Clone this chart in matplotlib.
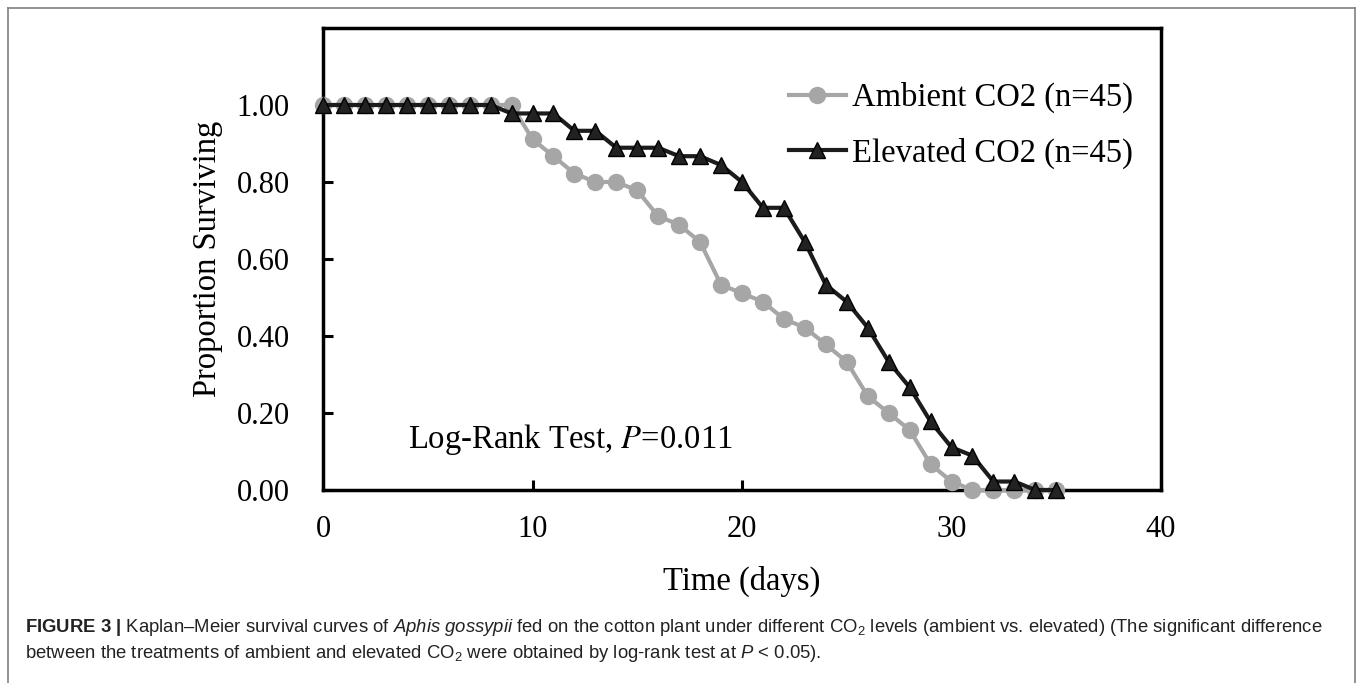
import numpy as np
import matplotlib; matplotlib.use("Agg")
import matplotlib.pyplot as plt
from matplotlib.lines import Line2D

plt.rcParams.update({"font.family": "Liberation Serif",
                     "mathtext.fontset": "custom",
                     "mathtext.rm": "Liberation Sans",
                     "mathtext.it": "Liberation Sans:italic",
                     "mathtext.bf": "Liberation Sans:bold"})

# data (proportion surviving, n=45 per group)
days = list(range(0, 36))
ambient = [1.000, 1.000, 1.000, 1.000, 1.000, 1.000, 1.000, 1.000, 1.000, 1.000,
           0.911, 0.867, 0.822, 0.800, 0.800, 0.778, 0.711, 0.689, 0.644, 0.533,
           0.511, 0.489, 0.444, 0.422, 0.378, 0.333, 0.244, 0.200, 0.156, 0.067,
           0.022, 0.000, 0.000, 0.000, 0.000, 0.000]
elevated = [1.000, 1.000, 1.000, 1.000, 1.000, 1.000, 1.000, 1.000, 1.000, 0.978,
            0.978, 0.978, 0.933, 0.933, 0.889, 0.889, 0.889, 0.867, 0.867, 0.844,
            0.800, 0.733, 0.733, 0.644, 0.533, 0.489, 0.422, 0.333, 0.267, 0.178,
            0.111, 0.089, 0.022, 0.022, 0.000, 0.000]
labels = ["Ambient CO2 (n=45)", "Elevated CO2 (n=45)"]
xticks = [0, 10, 20, 30, 40]
yticks = [0.0, 0.2, 0.4, 0.6, 0.8, 1.0]

GREY = "#a6a6a6"; BLACK = "#1c1c1c"
W, H = 1358, 683
fig = plt.figure(figsize=(W/100, H/100), dpi=100)
ax = fig.add_axes([323/W, 1-490/H, (1161-323)/W, (490-28)/H])

ax.plot(days, ambient, "-o", color=GREY, lw=3, ms=11.5, mec=GREY, label=labels[0], clip_on=False, zorder=3)
ax.plot(days, elevated, "-^", color=BLACK, lw=3, ms=12, mfc="#222222", mec="black", mew=1.0,
        label=labels[1], clip_on=False, zorder=4)

ax.set_xlim(0, 40); ax.set_ylim(0, 1.2)
ax.set_xticks(xticks); ax.set_yticks(yticks)
ax.set_yticklabels([f"{v:.2f}" for v in yticks])
ax.tick_params(direction="in", length=7, width=2.2, labelsize=22, color="black")
ax.tick_params(axis="y", pad=24)
ax.tick_params(axis="x", pad=18)
for s in ax.spines.values():
    s.set_linewidth(2.5)
ax.set_xlabel("Time (days)", fontsize=23.5, labelpad=16)
ax.set_ylabel("Proportion Surviving", fontsize=23.5, labelpad=10)

ax.text(4.05, 0.13, r"Log-Rank Test, $\mathit{P}$=0.011", fontsize=23.5, va="center", ha="left",
        math_fontfamily="stix")

ax.legend(loc="upper right", bbox_to_anchor=(0.967, 0.883), frameon=False, fontsize=23.5,
          handlelength=1.75, handletextpad=0.2, borderpad=0, borderaxespad=0, labelspacing=0.75)

# outer frame
fc = "#808080"
fig.add_artist(Line2D([7.5/W, 7.5/W], [0, 1-8/H], color=fc, lw=1.2, transform=fig.transFigure))
fig.add_artist(Line2D([1355/W, 1355/W], [0, 1-8/H], color=fc, lw=1.2, transform=fig.transFigure))
fig.add_artist(Line2D([7.5/W, 1355/W], [1-8/H, 1-8/H], color=fc, lw=1.2, transform=fig.transFigure))

# caption
cap1 = (r"$\mathbf{FIGURE\ 3\ |}$ Kaplan–Meier survival curves of $\mathit{Aphis\ gossypii}$ fed on the cotton "
        r"plant under different CO$_2$ levels (ambient vs. elevated) (The significant difference")
cap2 = r"between the treatments of ambient and elevated CO$_2$ were obtained by log-rank test at $\mathit{P}$ < 0.05)."
fig.text(25/W, 1-628/H, cap1, fontsize=13.3, family="Liberation Sans", color="#222222", va="center")
fig.text(25/W, 1-654/H, cap2, fontsize=13.3, family="Liberation Sans", color="#222222", va="center")

fig.savefig("out.png", dpi=100)
